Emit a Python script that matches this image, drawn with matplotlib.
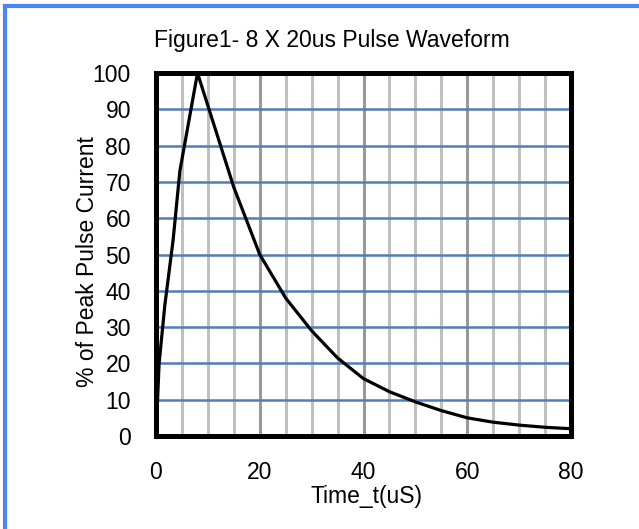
import matplotlib
matplotlib.use('Agg')
import matplotlib.pyplot as plt
from matplotlib.lines import Line2D

plt.rcParams['font.family'] = ['Liberation Sans', 'DejaVu Sans']

# pulse waveform
time_us = [0, 0.6, 1.7, 3.3, 4.6, 8, 10, 15, 20, 25, 30, 35, 40,
           45, 50, 55, 60, 65, 70, 75, 80]
pct_peak = [0, 20, 36, 54, 73, 100, 91, 68.5, 50, 38, 29, 21.5, 15.8,
            12.2, 9.4, 7.0, 5.0, 3.8, 3.0, 2.4, 2.0]

x_ticks = [0, 20, 40, 60, 80]
y_ticks = list(range(0, 101, 10))
minor_x = [v for v in range(5, 80, 5) if v % 20 != 0]
major_x = [20, 40, 60]

fig = plt.figure(figsize=(6.39, 5.29), dpi=100)
ax = fig.add_axes([156 / 639, 1 - 436 / 529, 415 / 639, 363 / 529])

for v in minor_x:
    ax.axvline(v, color='#c0c0c0', lw=2.2, zorder=1)
for v in major_x:
    ax.axvline(v, color='#999999', lw=2.2, zorder=1)
for v in y_ticks[1:-1]:
    ax.axhline(v, color='#4f7fb8', lw=1.8, zorder=2)

ax.plot(time_us, pct_peak, color='black', lw=2.3, zorder=3,
        solid_joinstyle='round', clip_on=False)

ax.set_xlim(0, 80)
ax.set_ylim(0, 100)
ax.set_xticks(x_ticks)
ax.set_yticks(y_ticks)
ax.tick_params(length=0, labelsize=16.5)
ax.tick_params(axis='y', pad=18)
ax.tick_params(axis='x', pad=18)
for s in ax.spines.values():
    s.set_linewidth(3.6)
    s.set_color('black')
    s.set_zorder(4)

fig.text(332 / 639, 1 - 40 / 529, 'Figure1- 8 X 20us Pulse Waveform',
         ha='center', va='center', fontsize=16.5)
fig.text(366 / 639, 1 - 497 / 529, 'Time_t(uS)', ha='center', va='center',
         fontsize=16.5)
fig.text(88 / 639, 1 - 262 / 529, '% of Peak Pulse Current', ha='center',
         va='center', rotation=90, fontsize=16.5)

# blue frame along the top and left edge
fig.add_artist(Line2D([5 / 639, 1], [1 - 6 / 529, 1 - 6 / 529],
                      transform=fig.transFigure, color='#4a86f7', lw=3))
fig.add_artist(Line2D([5 / 639, 5 / 639], [0, 1 - 6 / 529],
                      transform=fig.transFigure, color='#4a86f7', lw=3))

fig.savefig('out.png', dpi=100)
